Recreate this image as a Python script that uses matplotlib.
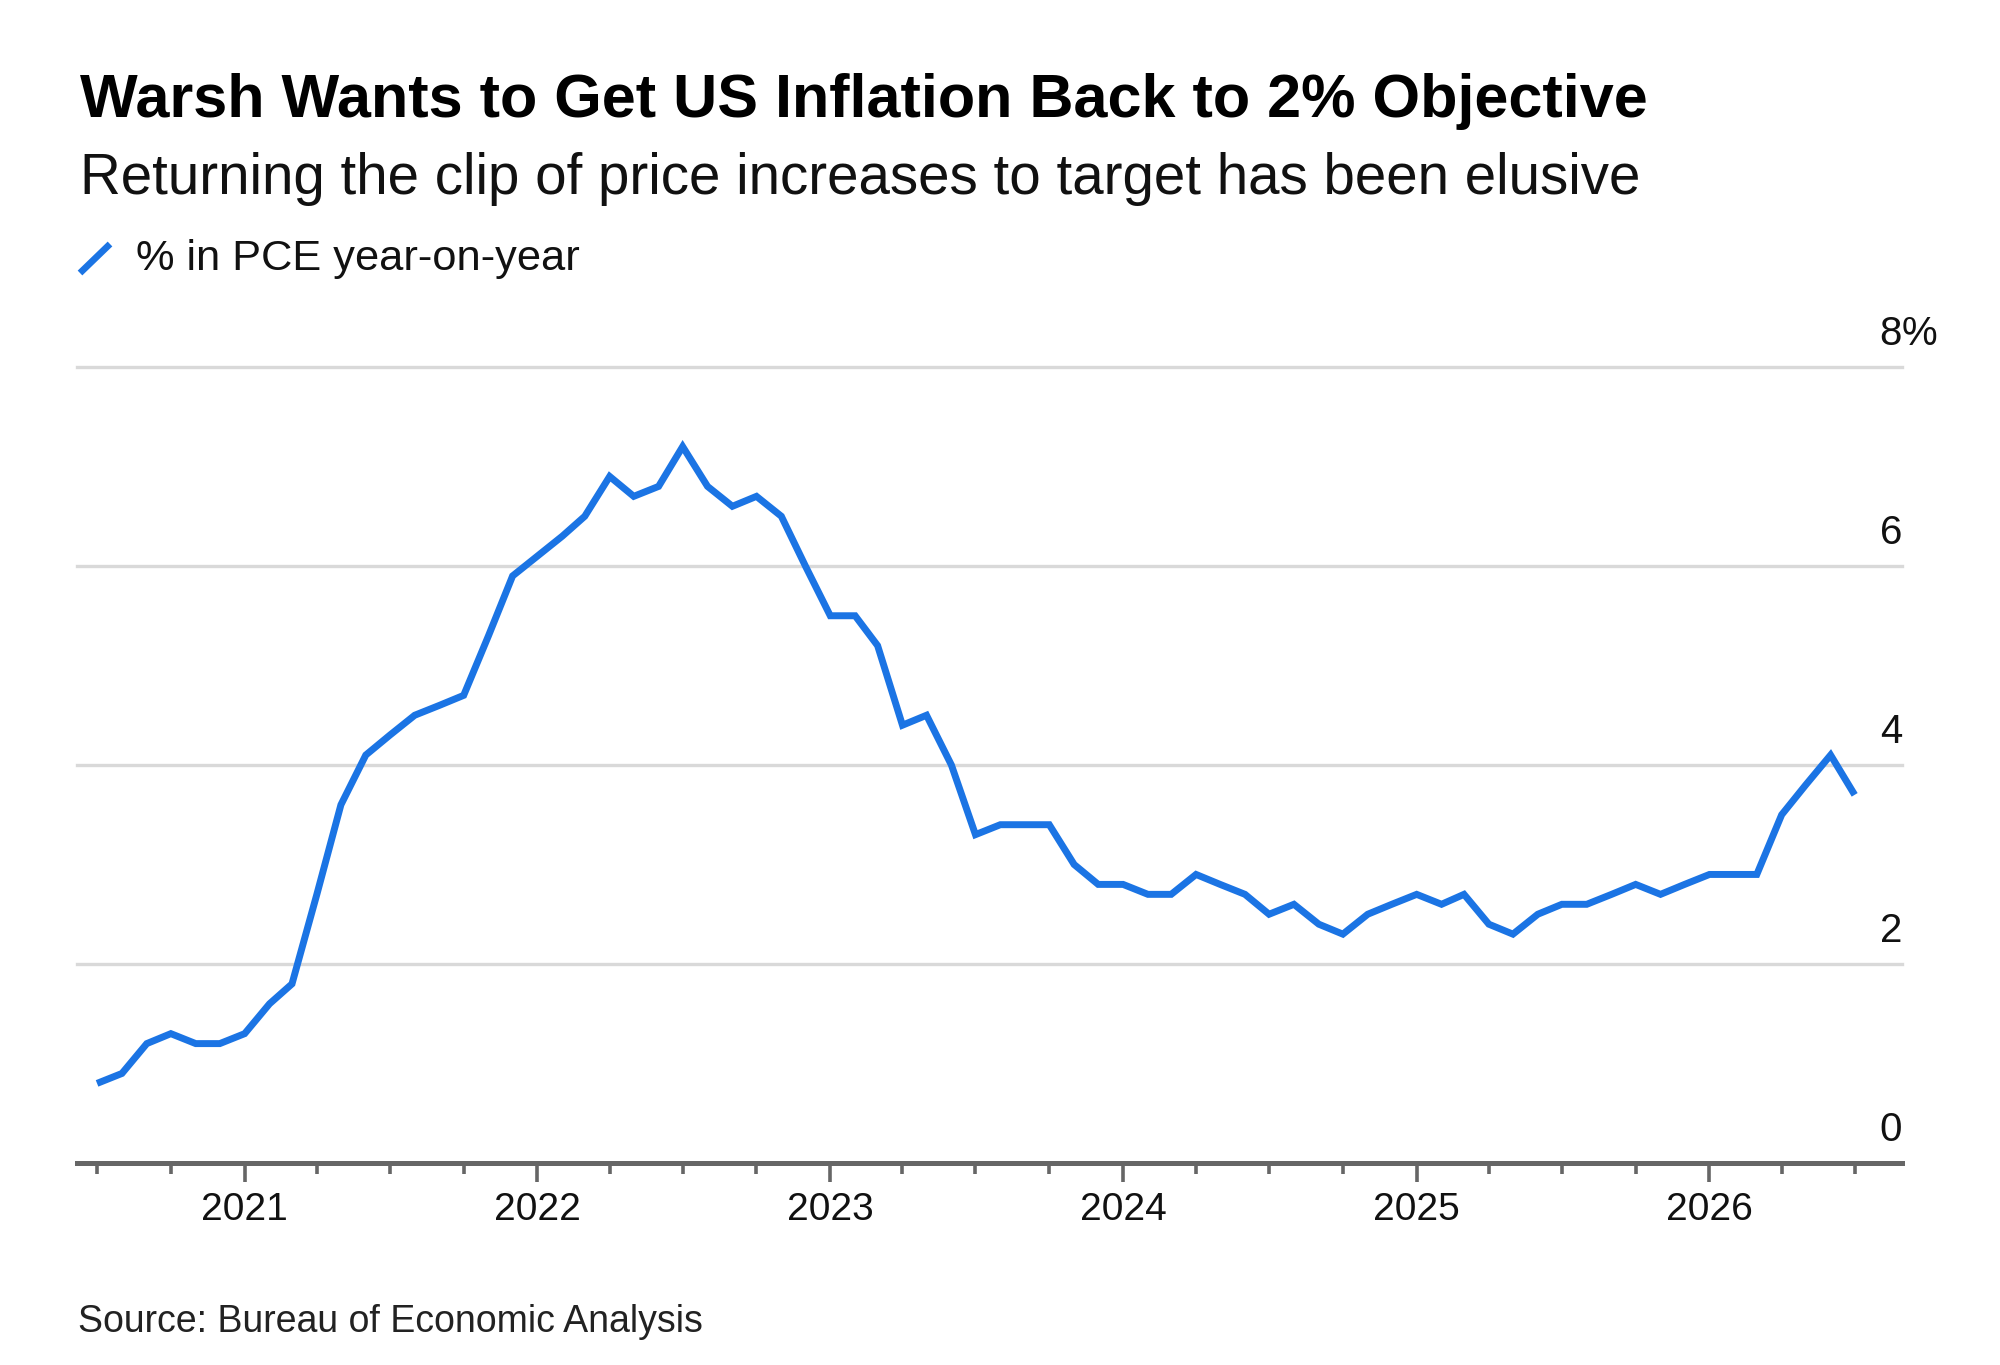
import matplotlib
matplotlib.use("Agg")
import matplotlib.pyplot as plt
import matplotlib.transforms as mtransforms
from matplotlib.lines import Line2D
import pandas as pd
import datetime as dt

plt.rcParams['font.family'] = ['Liberation Sans', 'DejaVu Sans']

# ---------------- data ----------------
start_month = "2020-07-01"
pce_yoy = [
    0.8, 0.9, 1.2, 1.3, 1.2, 1.2,                                   # 2020 Jul-Dec
    1.3, 1.6, 1.8, 2.7, 3.6, 4.1, 4.3, 4.5, 4.6, 4.7, 5.3, 5.9,     # 2021
    6.1, 6.3, 6.5, 6.9, 6.7, 6.8, 7.2, 6.8, 6.6, 6.7, 6.5, 6.0,     # 2022
    5.5, 5.5, 5.2, 4.4, 4.5, 4.0, 3.3, 3.4, 3.4, 3.4, 3.0, 2.8,     # 2023
    2.8, 2.7, 2.7, 2.9, 2.8, 2.7, 2.5, 2.6, 2.4, 2.3, 2.5, 2.6,     # 2024
    2.7, 2.6, 2.7, 2.4, 2.3, 2.5, 2.6, 2.6, 2.7, 2.8, 2.7, 2.8,     # 2025
    2.9, 2.9, 2.9, 3.5, 3.8, 4.1, 3.7,                              # 2026 Jan-Jul
]
year_ticks = [2021, 2022, 2023, 2024, 2025, 2026]
year_labels = ["2021", "2022", "2023", "2024", "2025", "2026"]
y_ticks = [0, 2, 4, 6, 8]
y_tick_labels = ["0", "2", "4", "6", "8%"]

title = "Warsh Wants to Get US Inflation Back to 2% Objective"
subtitle = "Returning the clip of price increases to target has been elusive"
legend_label = "% in PCE year-on-year"
source = "Source: Bureau of Economic Analysis"

dates = pd.date_range(start_month, periods=len(pce_yoy), freq="MS")

# ---------------- style ----------------
BLUE = "#1b74e4"
GRID = "#d9d9d9"
AXIS = "#666666"
W, H = 2000, 1365

fig = plt.figure(figsize=(W / 100, H / 100), dpi=100)
fig.patch.set_facecolor("white")
ax = fig.add_axes([77 / W, 1 - 1163 / H, (1902 - 77) / W, (1163 - 367) / H])

ax.plot(dates, pce_yoy, color=BLUE, lw=5.0, solid_joinstyle="miter",
        solid_capstyle="butt", zorder=3)

ax.set_ylim(0, 8)
ax.set_xlim(dt.date(2020, 6, 6), dt.date(2026, 8, 29))

for v in y_ticks[1:]:
    ax.axhline(v, color=GRID, lw=2.4, zorder=1, clip_on=False)

for s in ["top", "left", "right"]:
    ax.spines[s].set_visible(False)
ax.spines["bottom"].set_color(AXIS)
ax.spines["bottom"].set_linewidth(3.6)
ax.spines["bottom"].set_zorder(4)

ax.set_yticks([])
ax.set_xticks([dt.date(y, 1, 1) for y in year_ticks], labels=year_labels)
minor = [dt.date(y, m, 1) for y in range(2020, 2027) for m in (4, 7, 10)]
minor = [d for d in minor if dt.date(2020, 6, 6) <= d <= dt.date(2026, 8, 29)]
ax.set_xticks(minor, minor=True)
ax.tick_params(axis="x", which="major", length=14, width=2.6, color=AXIS,
               labelsize=28, pad=7, labelcolor="#111111")
ax.tick_params(axis="x", which="minor", length=8, width=2.6, color=AXIS)

# y labels above gridlines, right aligned at gridline end
ytrans = mtransforms.offset_copy(ax.get_yaxis_transform(), fig=fig,
                                 x=0, y=22, units="dots")
for v, lab in zip(y_ticks, y_tick_labels):
    num = lab.rstrip("%")
    suf = lab[len(num):]
    ax.text(1.0, v, num, transform=ytrans, ha="right", va="baseline",
            fontsize=29, color="#111111", clip_on=False)
    if suf:
        ax.text(1.0, v, suf, transform=ytrans, ha="left", va="baseline",
                fontsize=29, color="#111111", clip_on=False)

# ---------------- header / footer ----------------
t_title = fig.text(80 / W, 1 - 117 / H, title, fontsize=46, fontweight="bold",
                   color="#000000", ha="left", va="baseline")
t_sub = fig.text(80 / W, 1 - 194 / H, subtitle, fontsize=39, color="#111111",
                 ha="left", va="baseline")
t_leg = fig.text(136 / W, 1 - 270 / H, legend_label, fontsize=30,
                 color="#111111", ha="left", va="baseline")
t_src = fig.text(78 / W, 1 - 1332 / H, source, fontsize=25, color="#222222",
                 ha="left", va="baseline")
fig.add_artist(Line2D([80 / W, 110 / W], [1 - 273 / H, 1 - 244 / H],
                      transform=fig.transFigure, color=BLUE, lw=4.8,
                      solid_capstyle="butt"))

renderer = fig.canvas.get_renderer()
def fit(t, target_px):
    w = t.get_window_extent(renderer).width
    t.set_fontsize(t.get_fontsize() * target_px / w)

fit(t_title, 1568)
fit(t_sub, 1560)
fit(t_leg, 444)
fit(t_src, 626)

fig.savefig("out.png", dpi=100, facecolor="white")
